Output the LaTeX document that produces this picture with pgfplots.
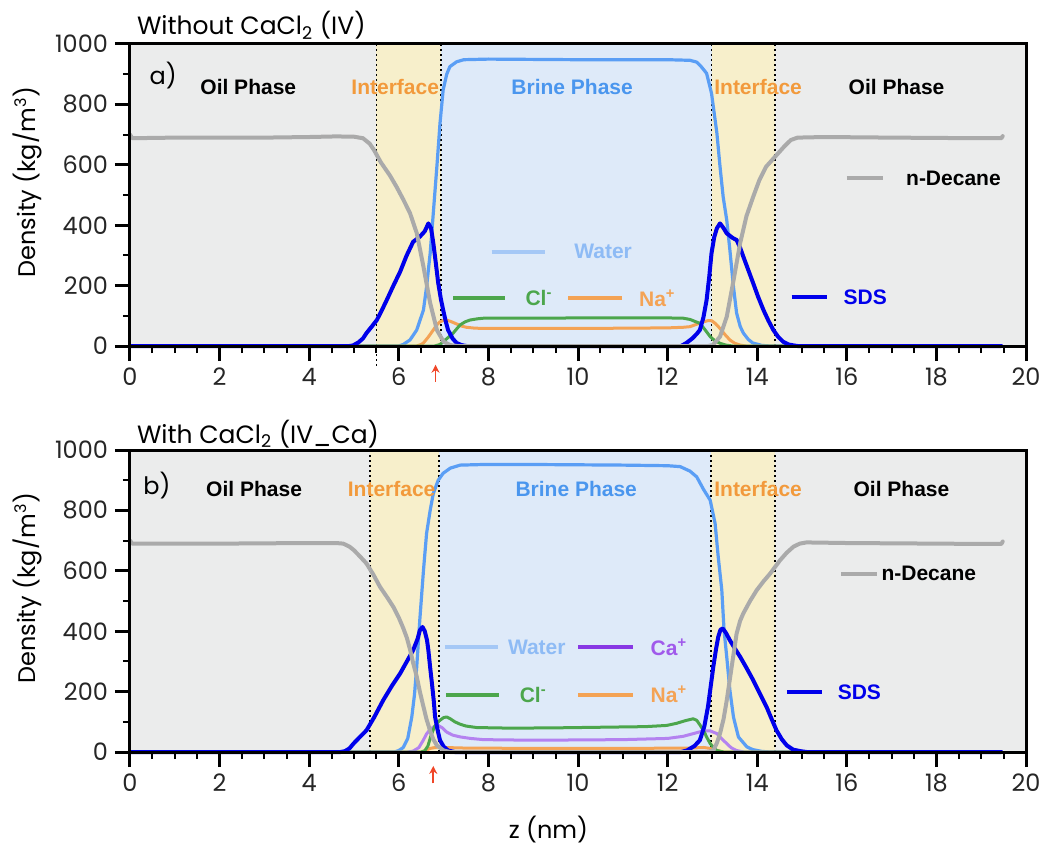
\documentclass[border=0pt]{standalone}
\usepackage{fontspec}
\usepackage{pgfplots}
\pgfplotsset{compat=1.18}
\usetikzlibrary{arrows.meta}
\setmainfont{Poppins}
\newfontfamily\hv{Liberation Sans}
\definecolor{graybg}{RGB}{235,236,236}
\definecolor{yellowbg}{RGB}{247,239,203}
\definecolor{bluebg}{RGB}{222,234,249}
\definecolor{waterc}{RGB}{90,158,245}
\definecolor{waterleg}{RGB}{165,200,246}
\definecolor{watertext}{RGB}{142,187,245}
\definecolor{decanec}{RGB}{170,170,170}
\definecolor{sdsc}{RGB}{0,0,235}
\definecolor{clc}{RGB}{76,166,76}
\definecolor{nac}{RGB}{244,163,85}
\definecolor{cac}{RGB}{180,130,240}
\definecolor{caleg}{RGB}{136,56,228}
\definecolor{catext}{RGB}{160,90,235}
\definecolor{interfc}{RGB}{242,154,60}
\definecolor{brinec}{RGB}{74,150,238}
\definecolor{arrowc}{RGB}{240,70,40}
\pgfplotsset{dens/.style={
  scale only axis, width=448pt, height=151pt,
  xmin=0, xmax=20, ymin=0, ymax=1000,
  xtick={0,2,...,20}, minor x tick num=3,
  ytick={0,200,...,1000}, minor y tick num=1,
  xtick pos=bottom, ytick pos=left,
  tick align=outside,
  major tick length=7.5pt, minor tick length=3.5pt,
  every major tick/.style={line width=1.5pt, black},
  every minor tick/.style={line width=1pt, black},
  axis line style={line width=1.5pt, black},
  axis on top, clip=false,
  tick label style={font=\fontsize{12}{12}\selectfont, text=black!85},
  /pgf/number format/assume math mode=true,
  /pgf/number format/1000 sep={},
  ylabel={Density (kg/m\textsuperscript{3})},
  ylabel style={font=\fontsize{12}{12}\selectfont, at={(axis description cs:-0.115,0.543)}, anchor=center},
  every axis plot/.append style={line join=round, line cap=round},
}}
\tikzset{lab/.style={font=\hv\bfseries\fontsize{10.5}{12}\selectfont},
  vdot/.style={black, line width=0.9pt, dash pattern=on 0.9pt off 1.6pt}}
\begin{document}
\begin{tikzpicture}
\useasboundingbox (-65pt,-252.5pt) rectangle (461pt,173pt);
% ---------------- top panel ----------------
\begin{axis}[dens, at={(0,0)}, anchor=south west]
\fill[graybg] (axis cs:0,0) rectangle (axis cs:5.5,1000);
\fill[yellowbg] (axis cs:5.5,0) rectangle (axis cs:6.95,1000);
\fill[bluebg] (axis cs:6.95,0) rectangle (axis cs:12.98,1000);
\fill[yellowbg] (axis cs:12.98,0) rectangle (axis cs:14.4,1000);
\fill[graybg] (axis cs:14.4,0) rectangle (axis cs:20,1000);
\draw[vdot] (axis cs:5.5,-65) -- (axis cs:5.5,1000);
\draw[vdot] (axis cs:6.95,0) -- (axis cs:6.95,1000);
\draw[vdot] (axis cs:12.98,0) -- (axis cs:12.98,1000);
\draw[vdot] (axis cs:14.4,0) -- (axis cs:14.4,1000);
% water
\addplot[waterc, line width=1.6pt] coordinates {
(0,0) (6.0,0) (6.1,5) (6.25,20) (6.4,53) (6.55,119) (6.62,196) (6.70,307) (6.77,440) (6.85,594) (6.92,738) (6.99,848) (7.07,900) (7.14,925) (7.29,941) (7.45,948) (8,950) (9,949) (10,948) (11,948) (12,948) (12.5,946) (12.65,940) (12.75,925) (12.87,903) (12.98,837) (13.1,705) (13.17,594) (13.24,494) (13.32,417) (13.39,318) (13.47,196) (13.54,109) (13.62,65) (13.69,43) (13.8,22) (13.9,10) (14.1,2) (14.3,0) (19.45,0)};
% Na+
\addplot[nac, line width=1.5pt] coordinates {
(0,0) (6.4,0) (6.5,5) (6.55,10) (6.66,30) (6.77,53) (6.85,70) (6.92,80) (7.0,85) (7.07,86) (7.18,80) (7.29,73) (7.4,66) (7.51,62) (7.7,59) (8,58) (10,58) (12,60) (12.35,62) (12.5,64) (12.65,72) (12.8,80) (12.9,84) (12.98,84) (13.07,74) (13.17,58) (13.28,38) (13.39,20) (13.5,9) (13.62,3) (13.75,0) (19.45,0)};
% Cl-
\addplot[clc, line width=1.5pt] coordinates {
(0,0) (6.8,0) (6.92,5) (6.99,14) (7.1,28) (7.21,42) (7.3,58) (7.37,70) (7.48,80) (7.59,86) (7.75,90) (7.89,92) (9,92) (10,93) (11,93) (12,93) (12.35,92) (12.5,88) (12.6,82) (12.72,75) (12.83,55) (12.95,31) (13.05,18) (13.17,9) (13.3,3) (13.45,0) (19.45,0)};
% SDS
\addplot[sdsc, line width=2pt] coordinates {
(0,0) (4.9,0) (4.98,2) (5.1,12) (5.2,25) (5.28,43) (5.4,65) (5.51,86) (5.62,118) (5.73,152) (5.88,200) (6.03,246) (6.17,298) (6.32,345) (6.47,362) (6.58,380) (6.66,406) (6.72,390) (6.77,341) (6.83,270) (6.88,208) (6.94,155) (6.99,119) (7.05,80) (7.10,53) (7.2,25) (7.29,10) (7.4,3) (7.51,0) (12.3,0) (12.42,10) (12.55,25) (12.65,40) (12.72,53) (12.8,95) (12.87,152) (12.93,230) (12.98,307) (13.04,360) (13.10,390) (13.17,406) (13.25,390) (13.32,373) (13.45,358) (13.54,351) (13.62,325) (13.69,296) (13.8,252) (13.91,208) (14.02,163) (14.14,119) (14.25,84) (14.36,53) (14.47,30) (14.58,14) (14.7,5) (14.81,2) (14.9,0) (19.45,0)};
% n-Decane
\addplot[decanec, line width=2pt] coordinates {
(0,700) (0.05,688) (0.5,689) (1,690) (2,690) (3,690) (4,692) (4.6,694) (5.0,693) (5.2,688) (5.35,670) (5.45,648) (5.6,608) (5.8,565) (5.95,527) (6.1,485) (6.25,440) (6.4,374) (6.55,263) (6.7,142) (6.85,53) (7.0,14) (7.15,3) (7.3,0) (12.9,0) (13.01,3) (13.17,31) (13.32,97) (13.46,208) (13.62,341) (13.76,430) (13.91,494) (14.05,550) (14.2,594) (14.4,627) (14.6,660) (14.75,682) (14.9,690) (15.5,692) (17,690) (19.0,688) (19.45,688) (19.48,695)};
% labels
\node[font=\fontsize{12}{12}\selectfont] at (axis cs:0.74,897) {a)};
\node[lab] at (axis cs:2.64,856) {Oil Phase};
\node[lab, text=interfc] at (axis cs:5.92,856) {Interface};
\node[lab, text=brinec] at (axis cs:9.87,856) {Brine Phase};
\node[lab, text=interfc] at (axis cs:14.02,856) {Interface};
\node[lab] at (axis cs:17.11,856) {Oil Phase};
% legend
\draw[decanec, line width=2pt] (axis cs:16.0,555) -- (axis cs:16.8,555);
\node[lab] at (axis cs:18.38,555) {n-Decane};
\draw[waterleg, line width=2pt] (axis cs:8.07,312) -- (axis cs:9.26,312);
\node[lab, text=watertext] at (axis cs:10.56,312) {Water};
\draw[clc, line width=2pt] (axis cs:7.22,158) -- (axis cs:8.37,158);
\node[lab, text=clc] at (axis cs:9.13,158) {Cl\textsuperscript{-}};
\draw[nac, line width=2pt] (axis cs:9.78,158) -- (axis cs:10.99,158);
\node[lab, text=nac] at (axis cs:11.77,158) {Na\textsuperscript{+}};
\draw[sdsc, line width=2pt] (axis cs:14.77,163) -- (axis cs:15.56,163);
\node[lab, text=sdsc] at (axis cs:16.41,163) {SDS};
\draw[arrowc, line width=0.9pt, -{Stealth[length=4pt,width=4pt]}] (axis cs:6.82,-119) -- (axis cs:6.82,-62);
\node[anchor=base west, font=\fontsize{12.5}{13}\selectfont] at (axis cs:0,1000) [yshift=4.5pt] {Without CaCl\textsubscript{2} (IV)};
\end{axis}
% ---------------- bottom panel ----------------
\begin{axis}[dens, at={(0,-203pt)}, anchor=south west,
  xlabel={z (nm)}, xlabel style={font=\fontsize{12}{12}\selectfont, at={(axis description cs:0.467,-0.258)}, anchor=center}]
\fill[graybg] (axis cs:0,0) rectangle (axis cs:5.35,1000);
\fill[yellowbg] (axis cs:5.35,0) rectangle (axis cs:6.9,1000);
\fill[bluebg] (axis cs:6.9,0) rectangle (axis cs:12.96,1000);
\fill[yellowbg] (axis cs:12.96,0) rectangle (axis cs:14.4,1000);
\fill[graybg] (axis cs:14.4,0) rectangle (axis cs:20,1000);
\draw[vdot] (axis cs:5.35,0) -- (axis cs:5.35,1000);
\draw[vdot] (axis cs:6.9,0) -- (axis cs:6.9,1000);
\draw[vdot] (axis cs:12.96,0) -- (axis cs:12.96,1000);
\draw[vdot] (axis cs:14.4,0) -- (axis cs:14.4,1000);
% water
\addplot[waterc, line width=1.6pt] coordinates {
(0,0) (5.9,0) (6.0,5) (6.1,15) (6.2,45) (6.29,116) (6.35,190) (6.40,282) (6.47,440) (6.55,600) (6.62,724) (6.7,800) (6.77,856) (6.88,900) (6.99,923) (7.15,940) (7.37,950) (7.89,952) (9,952) (10,951) (11,950) (12,948) (12.28,945) (12.5,930) (12.65,911) (12.8,870) (12.95,834) (13.06,757) (13.13,646) (13.21,536) (13.26,403) (13.32,315) (13.39,205) (13.47,116) (13.58,50) (13.77,17) (13.9,8) (14.1,2) (14.3,0) (19.45,0)};
% Na+
\addplot[nac, line width=1.5pt] coordinates {
(0,0) (6.5,0) (6.6,5) (6.7,12) (6.85,16) (7.0,15) (7.5,13) (9,12) (11,12) (12.5,13) (12.8,15) (12.95,12) (13.1,5) (13.25,0) (19.45,0)};
% Ca+
\addplot[cac, line width=1.5pt] coordinates {
(0,0) (6.2,0) (6.32,3) (6.45,15) (6.55,40) (6.62,60) (6.7,75) (6.8,85) (6.88,88) (6.97,80) (7.07,66) (7.2,56) (7.37,50) (7.6,45) (7.89,41) (9,39) (10,40) (11,41) (12,45) (12.35,52) (12.6,62) (12.8,70) (12.95,70) (13.1,61) (13.2,45) (13.32,28) (13.42,14) (13.54,5) (13.7,0) (19.45,0)};
% Cl-
\addplot[clc, line width=1.5pt] coordinates {
(0,0) (6.5,0) (6.58,4) (6.65,20) (6.72,55) (6.8,85) (6.9,103) (7.0,114) (7.07,116) (7.15,110) (7.25,100) (7.37,92) (7.5,86) (7.74,81) (8.5,79) (9.5,80) (10.5,82) (11.5,84) (11.98,88) (12.2,95) (12.4,104) (12.57,110) (12.65,105) (12.72,90) (12.80,72) (12.87,50) (12.95,28) (13.03,14) (13.1,5) (13.25,0) (19.45,0)};
% SDS
\addplot[sdsc, line width=2pt] coordinates {
(0,0) (4.7,0) (4.8,3) (4.9,12) (4.99,28) (5.1,45) (5.28,72) (5.45,115) (5.65,171) (5.85,220) (6.03,260) (6.18,300) (6.32,337) (6.42,375) (6.47,403) (6.53,414) (6.58,400) (6.63,370) (6.66,337) (6.70,280) (6.74,227) (6.78,170) (6.81,116) (6.87,70) (6.92,39) (7.0,18) (7.1,5) (7.25,0) (12.3,0) (12.43,5) (12.6,20) (12.72,39) (12.82,85) (12.9,149) (12.96,215) (13.02,282) (13.08,340) (13.13,381) (13.18,405) (13.23,409) (13.3,395) (13.39,370) (13.5,343) (13.62,315) (13.77,276) (13.91,238) (14.06,193) (14.21,149) (14.32,110) (14.43,72) (14.55,42) (14.66,22) (14.8,8) (14.96,3) (15.1,0) (19.45,0)};
% n-Decane
\addplot[decanec, line width=2pt] coordinates {
(0,700) (0.05,690) (1,690) (2,690) (3,691) (4,692) (4.6,692) (4.76,690) (4.9,680) (5.0,668) (5.15,645) (5.28,624) (5.43,588) (5.58,547) (5.75,510) (5.88,480) (6.0,445) (6.1,410) (6.18,378) (6.25,340) (6.32,295) (6.4,250) (6.47,200) (6.55,150) (6.62,108) (6.7,70) (6.77,42) (6.85,22) (7.0,5) (7.15,0) (12.9,0) (13.02,5) (13.1,30) (13.17,61) (13.25,110) (13.32,171) (13.43,282) (13.54,392) (13.62,435) (13.69,459) (13.84,500) (13.99,536) (14.14,565) (14.29,591) (14.4,613) (14.51,635) (14.66,660) (14.81,680) (14.95,690) (15.1,694) (16,692) (17,691) (18,690) (19,689) (19.45,689) (19.48,697)};
% labels
\node[font=\fontsize{12}{12}\selectfont] at (axis cs:0.6,884) {b)};
\node[lab] at (axis cs:2.77,871) {Oil Phase};
\node[lab, text=interfc] at (axis cs:5.84,871) {Interface};
\node[lab, text=brinec] at (axis cs:9.96,871) {Brine Phase};
\node[lab, text=interfc] at (axis cs:14.02,871) {Interface};
\node[lab] at (axis cs:17.22,871) {Oil Phase};
% legend
\draw[decanec, line width=2pt] (axis cs:15.88,591) -- (axis cs:16.67,591);
\node[lab] at (axis cs:17.83,591) {n-Decane};
\draw[waterleg, line width=2pt] (axis cs:7.03,348) -- (axis cs:8.22,348);
\node[lab, text=watertext] at (axis cs:9.08,348) {Water};
\draw[caleg, line width=2pt] (axis cs:10.0,348) -- (axis cs:11.22,348);
\node[lab, text=catext] at (axis cs:12.03,348) {Ca\textsuperscript{+}};
\draw[clc, line width=2pt] (axis cs:7.05,190) -- (axis cs:8.24,190);
\node[lab, text=clc] at (axis cs:9.0,190) {Cl\textsuperscript{-}};
\draw[nac, line width=2pt] (axis cs:10.0,190) -- (axis cs:11.22,190);
\node[lab, text=nac] at (axis cs:12.03,190) {Na\textsuperscript{+}};
\draw[sdsc, line width=2pt] (axis cs:14.66,199) -- (axis cs:15.44,199);
\node[lab, text=sdsc] at (axis cs:16.28,199) {SDS};
\draw[arrowc, line width=0.9pt, -{Stealth[length=4pt,width=4pt]}] (axis cs:6.77,-104) -- (axis cs:6.77,-46);
\node[anchor=base west, font=\fontsize{12.5}{13}\selectfont] at (axis cs:0,1000) [yshift=3.5pt] {With CaCl\textsubscript{2} (IV\_Ca)};
\end{axis}
\end{tikzpicture}
\end{document}
